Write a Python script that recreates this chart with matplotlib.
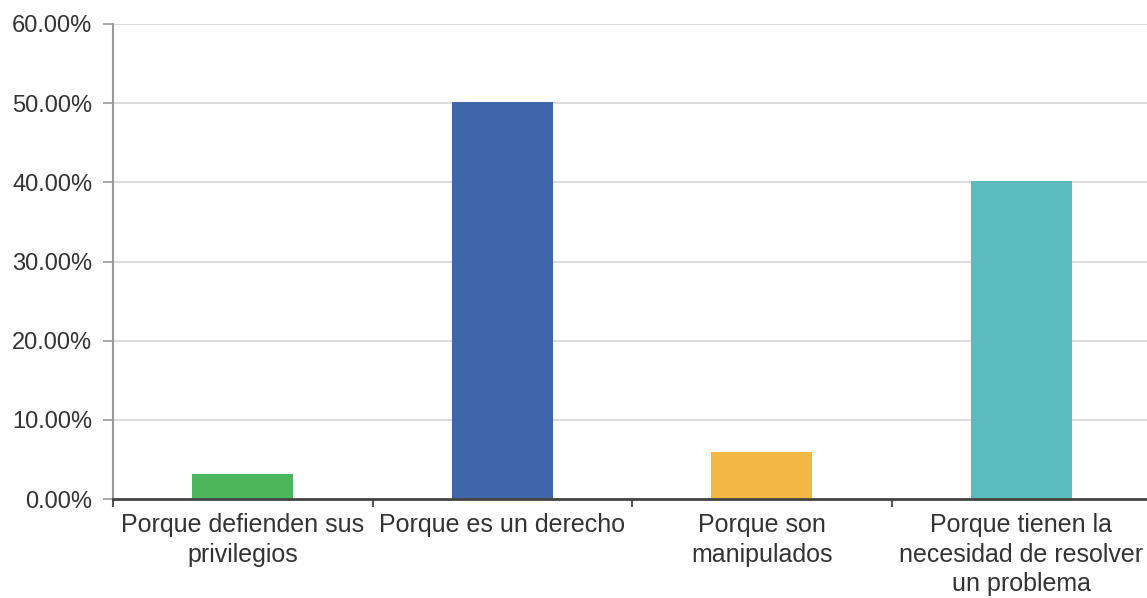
import matplotlib.pyplot as plt
from matplotlib.ticker import FuncFormatter, FixedLocator

categories = ["Porque defienden sus\nprivilegios",
              "Porque es un derecho",
              "Porque son\nmanipulados",
              "Porque tienen la\nnecesidad de resolver\nun problema"]
values = [3.2, 50.2, 5.9, 40.2]
colors = ["#4db55c", "#3f66a8", "#f3b843", "#5bbbbf"]
yticks = [0, 10, 20, 30, 40, 50, 60]

plt.rcParams['font.family'] = ['Liberation Sans', 'DejaVu Sans']

fig = plt.figure(figsize=(11.47, 5.98), dpi=100)
# axes runs a little past the right edge, like the original
ax = fig.add_axes([113 / 1147, 99 / 598, 1038 / 1147, 475 / 598])

x = range(len(categories))
ax.bar(x, values, width=0.39, color=colors, zorder=3)

ax.set_xlim(-0.5, len(categories) - 0.5)
ax.set_ylim(0, 60)
ax.set_yticks(yticks)
ax.yaxis.set_major_formatter(FuncFormatter(lambda v, p: f"{v:.2f}%"))
ax.grid(axis='y', color='#d6d6d6', linewidth=1.2, zorder=0)

# category labels at centres, tick marks at boundaries
ax.set_xticks(list(x))
ax.set_xticklabels(categories, linespacing=1.3)
ax.xaxis.set_minor_locator(FixedLocator([i - 0.5 for i in range(len(categories) + 1)]))
ax.tick_params(axis='x', which='major', length=0, pad=10, labelsize=18, labelcolor='#333333')
ax.tick_params(axis='x', which='minor', length=6, width=1.5, color='#555555', direction='out')
ax.tick_params(axis='y', length=7, width=1.2, color='#999999', pad=8, labelsize=17, labelcolor='#333333')

for s in ['top', 'right']:
    ax.spines[s].set_visible(False)
ax.spines['left'].set_color('#9a9a9a')
ax.spines['left'].set_linewidth(1.5)
ax.spines['bottom'].set_color('#444444')
ax.spines['bottom'].set_linewidth(2)
ax.spines['bottom'].set_zorder(4)

fig.savefig("out.png", dpi=100)
